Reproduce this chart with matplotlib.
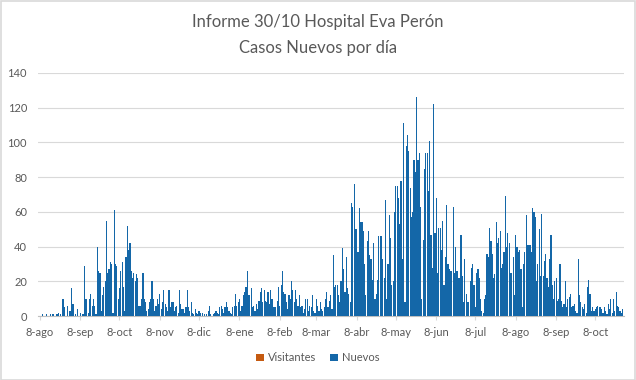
import matplotlib
matplotlib.use("Agg")
import matplotlib.pyplot as plt
import matplotlib.dates as mdates
from matplotlib.patches import Patch, Rectangle
import datetime as dt

plt.rcParams['font.family'] = ['Lato', 'DejaVu Sans']

start_date = dt.date(2020, 8, 8)
nuevos = [
    0,0,1,0,0,1,0,0,1,0,
    1,0,0,1,2,0,1,10,10,5,
    0,6,0,3,16,7,7,1,0,4,
    0,2,0,1,29,10,10,2,10,13,
    6,10,6,1,40,26,25,3,12,17,
    20,55,25,27,31,30,2,61,30,29,
    10,16,26,31,17,3,34,52,38,42,
    26,22,25,20,24,22,6,6,10,25,
    10,8,3,4,8,10,20,10,3,6,
    10,7,13,4,8,15,7,5,3,15,
    5,8,8,3,5,6,2,15,7,4,
    4,2,5,15,5,3,8,2,1,4,
    2,1,3,2,0,2,1,0,1,3,
    6,1,0,1,2,3,2,1,5,6,
    4,2,5,8,5,3,2,1,5,6,
    13,6,8,10,3,6,12,14,17,26,
    12,12,16,5,6,3,7,4,9,14,
    16,8,15,9,8,14,7,15,10,5,
    5,5,9,17,6,18,26,14,13,8,
    4,12,10,20,15,8,15,10,6,12,
    5,6,2,4,10,10,3,6,5,12,
    3,2,10,6,3,8,4,3,5,10,
    14,5,9,12,4,35,17,18,18,12,
    8,20,39,27,14,34,16,13,8,65,
    63,76,50,50,37,62,54,54,49,30,
    12,43,49,35,33,21,42,10,13,21,
    46,46,46,33,22,67,10,30,58,45,
    18,20,60,75,75,68,53,78,33,111,
    8,98,104,95,74,57,60,90,83,126,
    90,94,63,10,44,85,94,94,72,101,
    47,28,122,48,68,25,51,51,38,55,
    18,34,64,30,27,26,26,63,25,40,
    26,22,22,47,23,8,33,13,8,8,
    20,28,30,18,5,25,27,22,10,3,
    2,10,12,36,34,51,43,36,22,24,
    54,42,45,49,28,30,37,69,40,48,
    42,25,25,34,12,47,40,37,38,27,
    5,30,37,58,41,41,41,37,62,60,
    57,20,30,50,23,59,23,32,36,22,
    17,33,47,18,10,20,22,9,10,30,
    9,5,7,20,5,10,11,13,5,6,
    7,3,2,33,12,8,5,4,7,2,
    17,21,13,3,5,3,4,5,6,5,
    5,4,2,5,3,1,7,4,10,2,
    10,3,14,6,5,3,2,4,
]
meses = ['ene', 'feb', 'mar', 'abr', 'may', 'jun', 'jul', 'ago', 'sep', 'oct', 'nov', 'dic']
tick_months = [(2020, m) for m in range(8, 13)] + [(2021, m) for m in range(1, 11)]
series_names = ['Visitantes', 'Nuevos']
colors = ['#c55a11', '#1467a8']

dates = [start_date + dt.timedelta(days=i) for i in range(len(nuevos))]
xd = mdates.date2num(dates)

fig = plt.figure(figsize=(6.36, 3.80), dpi=100)
ax = fig.add_axes([0.060, 0.168, 0.921, 0.640])

ax.bar(xd, nuevos, width=0.9, color=colors[1], linewidth=0, zorder=3)

ax.set_ylim(0, 140)
ax.set_yticks(range(0, 141, 20))
x0 = mdates.date2num(start_date)
ax.set_xlim(x0 - 1.4, x0 + 448.0)

ticks = [mdates.date2num(dt.date(y, m, 8)) for y, m in tick_months]
ax.set_xticks(ticks)
ax.set_xticklabels([f"8-{meses[m-1]}" for y, m in tick_months])

ax.grid(axis='y', color='#d9d9d9', linewidth=0.8, zorder=0)
for s in ['top', 'right', 'left']:
    ax.spines[s].set_visible(False)
ax.spines['bottom'].set_color('#bfbfbf')
ax.spines['bottom'].set_linewidth(0.8)
ax.tick_params(axis='y', length=0, labelsize=8, labelcolor='#595959', pad=8)
ax.tick_params(axis='x', length=3, color='#d9d9d9', labelsize=8, labelcolor='#595959', pad=5)

fig.text(0.5, 0.941, 'Informe 30/10 Hospital Eva Perón', ha='center', va='center',
         fontsize=12, color='#595959')
fig.text(0.5, 0.875, 'Casos Nuevos por día', ha='center', va='center',
         fontsize=12, color='#595959')

handles = [Patch(facecolor=c, edgecolor='none') for c in colors]
fig.legend(handles, series_names, loc='center', bbox_to_anchor=(0.5, 0.058), ncol=2,
           frameon=False, fontsize=8, handlelength=0.7, handleheight=0.7,
           handletextpad=0.4, columnspacing=1.2, labelcolor='#595959')

fig.patches.append(Rectangle((0.001, 0.001), 0.997, 0.997, transform=fig.transFigure,
                             fill=False, edgecolor='#d9d9d9', linewidth=1.2))

fig.savefig('out.png', dpi=100)
